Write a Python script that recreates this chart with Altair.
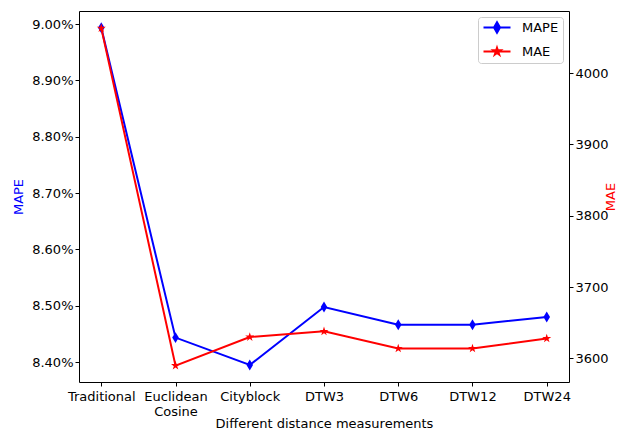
import altair as alt
import pandas as pd

categories = ["Traditional", "Euclidean\nCosine", "Cityblock", "DTW3", "DTW6", "DTW12", "DTW24"]
mape_values = [8.9934, 8.4433, 8.3947, 8.4975, 8.4663, 8.4663, 8.4798]
mae_values = [4063, 3590, 3630, 3638, 3614, 3614, 3628]
mape_ticks = [8.4, 8.5, 8.6, 8.7, 8.8, 8.9, 9.0]
mae_ticks = [3600, 3700, 3800, 3900, 4000]
series_names = ["MAPE", "MAE"]
series_colors = ["#0000ff", "#ff0000"]

df = pd.DataFrame({"cat": categories, "MAPE": mape_values, "MAE": mae_values})
legend_df = pd.DataFrame({"cat": [categories[0], categories[0]],
                          "series": series_names,
                          "MAPE": [mape_values[0], mape_values[0]]})

DIAMOND = "M0,-1L0.6,0L0,1L-0.6,0Z"
STAR = ("M0,-1L0.2245,-0.309L0.951,-0.309L0.363,0.118L0.588,0.809L0,0.382"
        "L-0.588,0.809L-0.363,0.118L-0.951,-0.309L-0.2245,-0.309Z")
LEG_DIAMOND = "M-2.7,0H2.7M0,-1.05L0.6,0L0,1.05L-0.6,0Z"
LEG_STAR = ("M-2.7,0H2.7M0,-0.75L0.169,-0.232L0.713,-0.232L0.272,0.088L0.441,0.607L0,0.287"
            "L-0.441,0.607L-0.272,0.088L-0.713,-0.232L-0.169,-0.232Z")

FONT = "DejaVu Sans"
FS = 13

x_enc = alt.X("cat:N", sort=categories,
              scale=alt.Scale(type="point", padding=0.3),
              axis=alt.Axis(title="Different distance measurements", labelAngle=0,
                            labelExpr="split(datum.label, '\\n')", labelLineHeight=15,
                            tickSize=4, labelPadding=4, domain=False,
                            titleY=41, titleBaseline="middle"))

y_mape = alt.Y("MAPE:Q",
               scale=alt.Scale(domain=[8.3645, 9.0231], zero=False, nice=False),
               axis=alt.Axis(title="MAPE", titleColor="#0000ff", values=mape_ticks,
                             labelExpr="format(datum.value, '.2f') + '%'",
                             grid=False, domain=False, tickSize=4, orient="left",
                             titlePadding=6))
y_mae = alt.Y("MAE:Q",
              scale=alt.Scale(domain=[3567, 4087], zero=False, nice=False),
              axis=alt.Axis(title="MAE", titleColor="#ff0000", values=mae_ticks,
                            format=".0f",
                            grid=False, domain=False, tickSize=4, orient="right",
                            titleAngle=270, titlePadding=9))

mape_line = alt.Chart(df).mark_line(color="#0000ff", strokeWidth=2).encode(x=x_enc, y=y_mape)
mape_pts = alt.Chart(df).mark_point(shape=DIAMOND, filled=True, color="#0000ff",
                                    size=120, opacity=1).encode(x=x_enc, y=y_mape)

leg = alt.Legend(title=None, orient="top-right", offset=6, padding=4,
                 symbolOffset=8.5, labelOffset=18.5, symbolSize=100,
                 symbolStrokeWidth=2, symbolOpacity=1, rowPadding=6,
                 labelFontSize=FS, labelColor="black",
                 strokeColor="#cccccc", fillColor="white", cornerRadius=3)
leg_scale_c = alt.Scale(domain=series_names, range=series_colors)
leg_scale_s = alt.Scale(domain=series_names, range=[LEG_DIAMOND, LEG_STAR])

legend_layer = alt.Chart(legend_df).mark_point(filled=True, opacity=0, size=100).encode(
    x=x_enc, y=y_mape,
    color=alt.Color("series:N", scale=leg_scale_c, legend=leg),
    stroke=alt.Stroke("series:N", scale=leg_scale_c, legend=leg),
    shape=alt.Shape("series:N", scale=leg_scale_s, legend=leg),
)

mae_line = alt.Chart(df).mark_line(color="#ff0000", strokeWidth=2).encode(x=x_enc, y=y_mae)
mae_pts = alt.Chart(df).mark_point(shape=STAR, filled=True, color="#ff0000",
                                   size=90, opacity=1).encode(x=x_enc, y=y_mae)

left = alt.layer(mape_line, mape_pts, legend_layer)
right = alt.layer(mae_line, mae_pts)

chart = alt.layer(left, right).resolve_scale(y="independent").properties(
    width=490, height=371,
    autosize=alt.AutoSizeParams(type="none"),
    padding={"left": 79, "top": 11, "right": 66, "bottom": 51},
).configure(font=FONT).configure_view(
    stroke="black", strokeWidth=1
).configure_axis(
    labelFont=FONT, titleFont=FONT, labelFontSize=FS, titleFontSize=FS,
    labelColor="black", tickColor="black", tickWidth=1, titleColor="black",
    titleFontWeight="normal"
).configure_legend(labelFont=FONT)

chart.save("out.html", embed_options={"renderer": "svg", "actions": False})
